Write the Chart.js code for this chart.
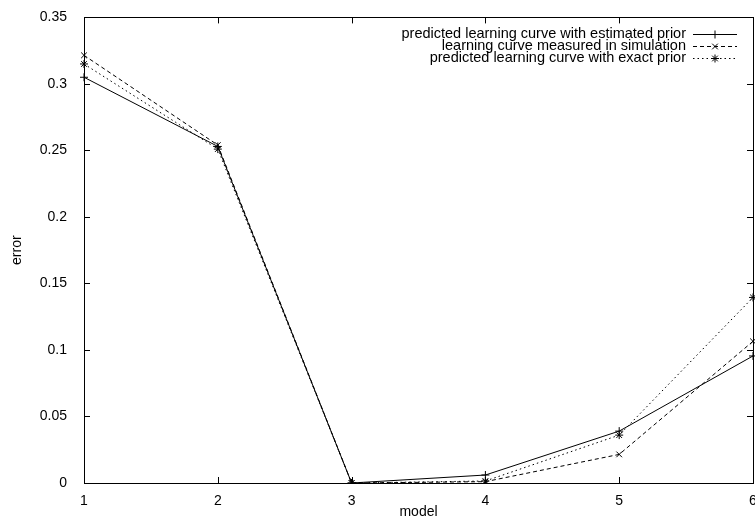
<!DOCTYPE html>
<html>
<head>
<meta charset="utf-8">
<script src="https://cdn.jsdelivr.net/npm/chart.js@4/dist/chart.umd.min.js"></script>
<style>
html,body{margin:0;padding:0;background:#fff;overflow:hidden;width:755px;height:521px;}
#wrap{width:800px;height:521px;}
</style>
</head>
<body>
<div id="wrap"><canvas id="c" width="800" height="521"></canvas></div>
<script>
const models = ['1','2','3','4','5','6'];
const estimatedPrior = [0.305, 0.253, 0.0, 0.0060, 0.039, 0.0955];
const measuredSim    = [0.3215, 0.254, 0.0, 0.0010, 0.0215, 0.1065];
const exactPrior     = [0.315, 0.251, 0.0, 0.0015, 0.036, 0.1395];
const yTicks = [0, 0.05, 0.1, 0.15, 0.2, 0.25, 0.3, 0.35];
const labels = [
  'predicted learning curve with estimated prior',
  'learning curve measured in simulation',
  'predicted learning curve with exact prior'
];
const FONT = '"Liberation Sans", Arial, Helvetica, sans-serif';

const framePlugin = {
  id: 'frame',
  afterDatasetsDraw(chart) {
    const {ctx, chartArea: a, scales} = chart;
    ctx.save();
    ctx.strokeStyle = '#000';
    ctx.lineWidth = 1;
    ctx.strokeRect(Math.round(a.left)+0.5, Math.round(a.top)+0.5, Math.round(a.right-a.left), Math.round(a.bottom-a.top));
    const L = 6;
    ctx.beginPath();
    yTicks.forEach(v => {
      const y = Math.round(scales.y.getPixelForValue(v)) + 0.5;
      ctx.moveTo(a.left, y); ctx.lineTo(a.left + L, y);
      ctx.moveTo(a.right, y); ctx.lineTo(a.right - L, y);
    });
    models.forEach((m, i) => {
      const x = Math.round(scales.x.getPixelForValue(i)) + 0.5;
      ctx.moveTo(x, a.bottom); ctx.lineTo(x, a.bottom - L);
      ctx.moveTo(x, a.top); ctx.lineTo(x, a.top + L);
    });
    ctx.stroke();

    // legend
    const textRight = a.right - 67;
    const sx0 = a.right - 60, sx1 = a.right - 16;
    ctx.font = '14.5px ' + FONT;
    ctx.textAlign = 'right';
    ctx.textBaseline = 'middle';
    ctx.fillStyle = '#000';
    chart.data.datasets.forEach((ds, i) => {
      const y = a.top + 16.5 + i * 11.8;
      ctx.fillText(ds.label, textRight, y);
      ctx.beginPath();
      ctx.setLineDash(ds.borderDash || []);
      ctx.moveTo(sx0, Math.round(y)+0.5); ctx.lineTo(sx1, Math.round(y)+0.5);
      ctx.stroke();
      ctx.setLineDash([]);
      Chart.helpers.drawPoint(ctx, {pointStyle: ds.pointStyle, radius: ds.pointRadius, borderWidth: 1}, (sx0+sx1)/2, Math.round(y)+0.5);
    });
    ctx.restore();
  }
};

const common = {
  borderColor: '#000', backgroundColor: '#000', borderWidth: 1,
  pointRadius: 4, pointBorderWidth: 1, pointBorderColor: '#000',
  fill: false, tension: 0
};

new Chart(document.getElementById('c'), {
  type: 'line',
  data: {
    labels: models,
    datasets: [
      Object.assign({label: labels[0], data: estimatedPrior, pointStyle: 'cross', borderDash: []}, common),
      Object.assign({label: labels[1], data: measuredSim, pointStyle: 'crossRot', borderDash: [4, 3]}, common),
      Object.assign({label: labels[2], data: exactPrior, pointStyle: 'star', borderDash: [1.5, 3]}, common)
    ]
  },
  options: {
    responsive: false,
    animation: false,
    layout: {padding: {top: 15, right: 47, left: 0, bottom: 0}},
    plugins: {legend: {display: false}, tooltip: {enabled: false}},
    elements: {point: {hitRadius: 0}},
    scales: {
      x: {
        type: 'category', offset: false,
        grid: {display: false}, border: {display: false},
        ticks: {color: '#000', font: {family: FONT, size: 14}, padding: 2, maxRotation: 0, autoSkip: false},
        title: {display: true, text: 'model', color: '#000', font: {family: FONT, size: 14}, padding: {top: 0, bottom: 0}},
        afterFit(s) { s.height = 38; }
      },
      y: {
        min: 0, max: 0.35,
        grid: {display: false}, border: {display: false},
        afterBuildTicks(s) { s.ticks = yTicks.map(v => ({value: v})); },
        ticks: {color: '#000', font: {family: FONT, size: 14}, padding: 9, callback: v => String(+v.toFixed(2))},
        title: {display: true, text: 'error', color: '#000', font: {family: FONT, size: 14}, padding: {top: 9, bottom: 0}},
        afterFit(s) { s.width = 84; }
      }
    }
  },
  plugins: [framePlugin]
});
</script>
</body>
</html>
